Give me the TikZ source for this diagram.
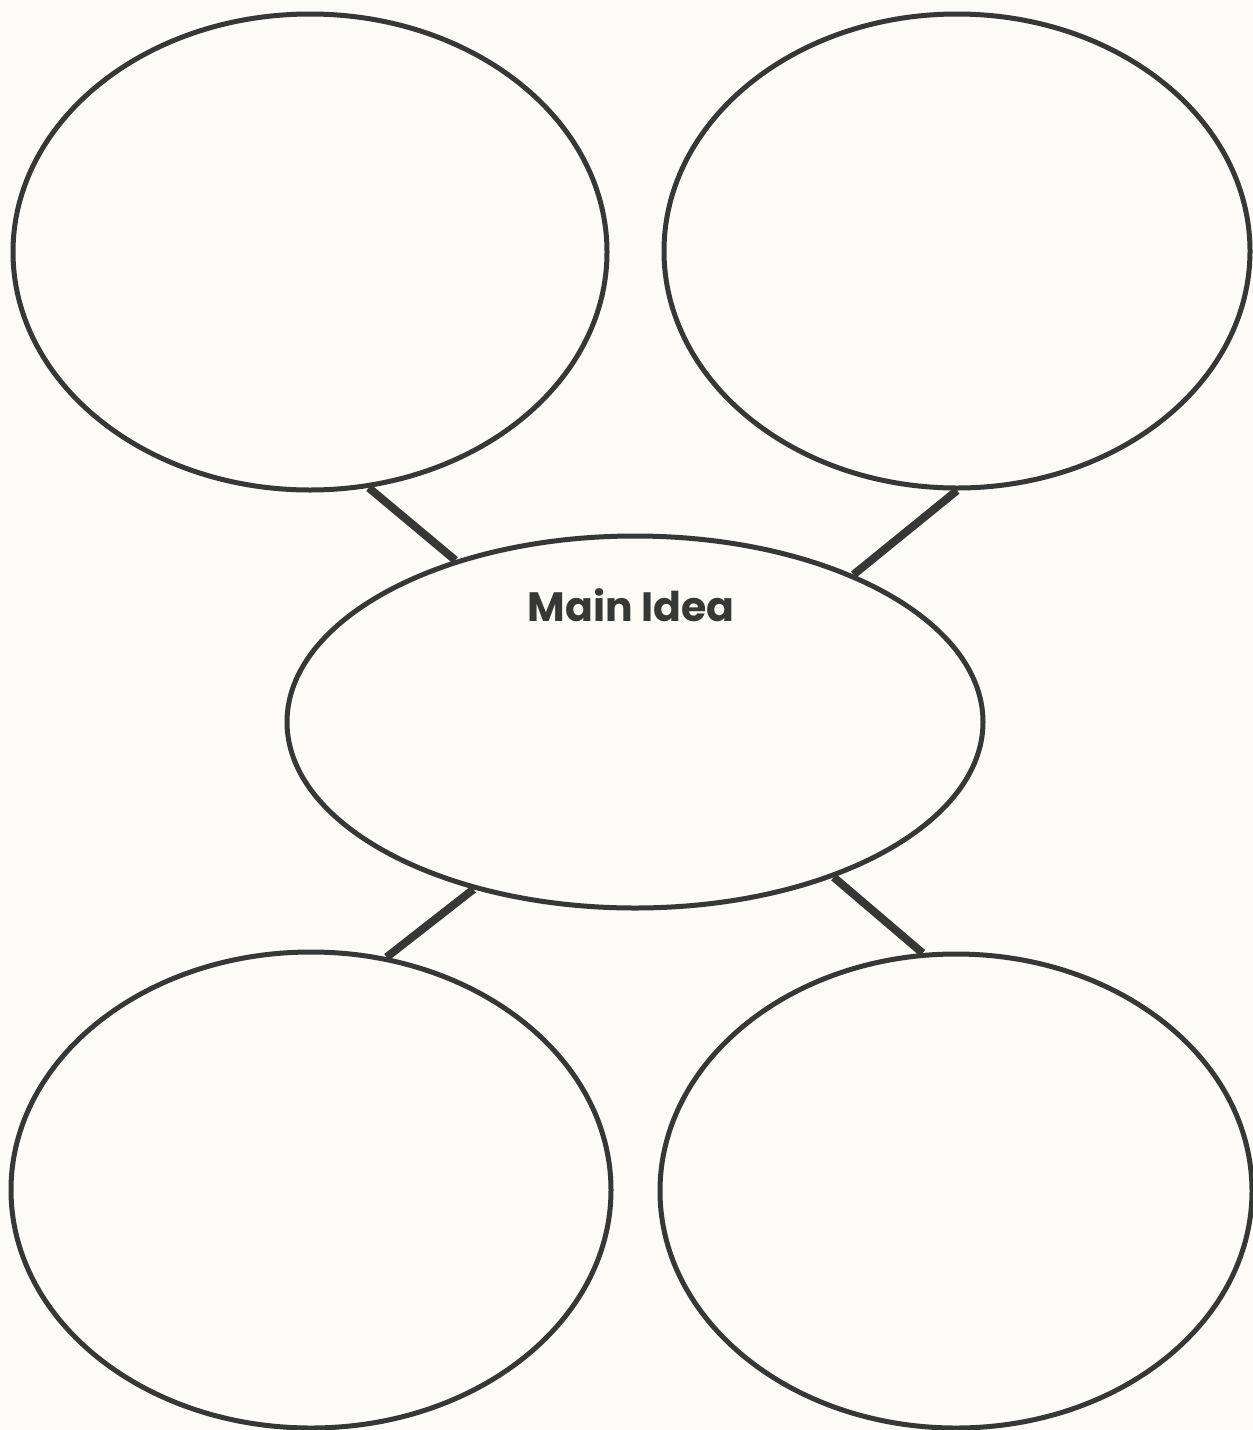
\documentclass[tikz,border=0pt]{standalone}
\usepackage{fontspec}
\setsansfont{Poppins}
\usetikzlibrary{shapes.geometric, positioning}

\definecolor{paper}{HTML}{FCFBF6}
\definecolor{ink}{HTML}{353835}

\begin{document}
\begin{tikzpicture}[x=1pt, y=-1pt, line width=5pt]
    \tikzset{
        bubble/.style={ellipse, draw=ink, inner sep=0pt},
        link/.style={draw=ink, line width=8pt}
    }
    \fill[paper] (0,0) rectangle (1253,1430);
    \useasboundingbox (0,0) rectangle (1253,1430);

    % Nodes
    \node[bubble, minimum width=594pt, minimum height=476pt] (tl) at (310, 252) {};
    \node[bubble, minimum width=586pt, minimum height=474pt] (tr) at (957, 251) {};
    \node[bubble, minimum width=696pt, minimum height=372pt] (main) at (635, 722) {};
    \node[bubble, minimum width=600pt, minimum height=476pt] (bl) at (311, 1190) {};
    \node[bubble, minimum width=592pt, minimum height=474pt] (br) at (956, 1191) {};
    \node[text=ink, font=\sffamily\bfseries\fontsize{41}{48}\selectfont] (title) at (631, 605) {Main Idea};

    % Edges
    \draw[link] (tl.-76) -- (main.138);
    \draw[link] (tr.-90) -- (main.34);
    \draw[link] (main.-134) -- (bl.72);
    \draw[link] (main.-38) -- (br.98);
\end{tikzpicture}
\end{document}
